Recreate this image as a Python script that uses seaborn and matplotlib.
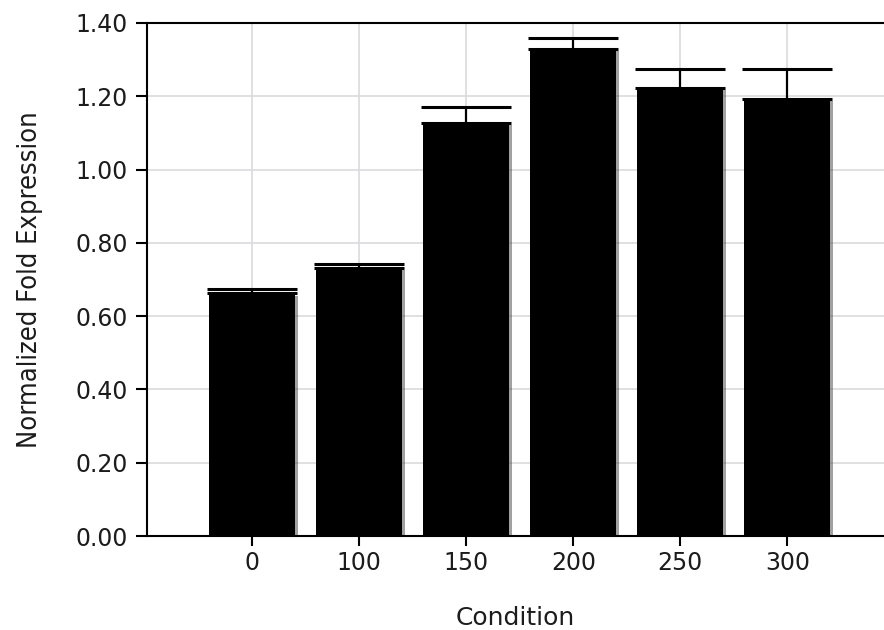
import matplotlib

matplotlib.use("Agg")
import matplotlib.patheffects as pe
import matplotlib.pyplot as plt
import pandas as pd
import seaborn as sns


conditions = ["0", "100", "150", "200", "250", "300"]
fold_expression = [0.662, 0.731, 1.126, 1.328, 1.222, 1.192]
error_upper = [0.012, 0.011, 0.044, 0.030, 0.052, 0.082]
y_ticks = [0.0, 0.2, 0.4, 0.6, 0.8, 1.0, 1.2, 1.4]


def main():
    sns.set_style("whitegrid")
    plt.rcParams.update(
        {
            "font.family": ["DejaVu Sans"],
            "axes.edgecolor": "black",
            "axes.linewidth": 1.5,
            "grid.color": "#dadade",
            "grid.linewidth": 1.2,
            "xtick.color": "black",
            "ytick.color": "black",
            "xtick.labelcolor": "#1c1c1c",
            "ytick.labelcolor": "#1c1c1c",
        }
    )

    df = pd.DataFrame(
        {"Condition": conditions, "Normalized Fold Expression": fold_expression}
    )

    fig = plt.figure(figsize=(8.84, 6.3), dpi=100)
    ax = fig.add_axes([147 / 884, 94 / 630, 1 - 147 / 884, 513 / 630])

    sns.barplot(
        data=df,
        x="Condition",
        y="Normalized Fold Expression",
        color="black",
        saturation=1,
        width=0.8,
        edgecolor="none",
        ax=ax,
    )
    # soft dark shadow on the right edge of each bar
    for bar in ax.patches:
        bar.set_path_effects(
            [
                pe.SimplePatchShadow(offset=(2, -1.5), shadow_rgbFace="#444444", alpha=0.5),
                pe.Normal(),
            ]
        )

    ax.errorbar(
        range(len(conditions)),
        fold_expression,
        yerr=[[0] * len(error_upper), error_upper],
        fmt="none",
        ecolor="black",
        elinewidth=1.6,
        capsize=32.5,
        capthick=2.2,
        zorder=3,
    )

    ax.set_ylim(0, 1.4)
    ax.set_xlim(-0.984, 5.904)
    ax.set_yticks(y_ticks)
    ax.set_yticklabels([f"{t:.2f}" for t in y_ticks])
    ax.set_axisbelow(True)
    ax.grid(True, axis="both")

    ax.spines["right"].set_visible(False)
    for side in ["left", "bottom", "top"]:
        ax.spines[side].set_color("black")

    ax.tick_params(axis="y", length=8, width=1.5, pad=6, labelsize=17, left=True)
    ax.tick_params(axis="x", length=7, width=1.5, pad=4, labelsize=17, bottom=True)

    ax.set_xlabel("Condition", fontsize=18, color="#1c1c1c", labelpad=22)
    ax.set_ylabel(
        "Normalized Fold Expression",
        fontsize=19.5,
        fontstretch="condensed",
        color="#1c1c1c",
        labelpad=23,
    )

    fig.savefig("out.png", dpi=100)
    plt.close(fig)


if __name__ == "__main__":
    main()
